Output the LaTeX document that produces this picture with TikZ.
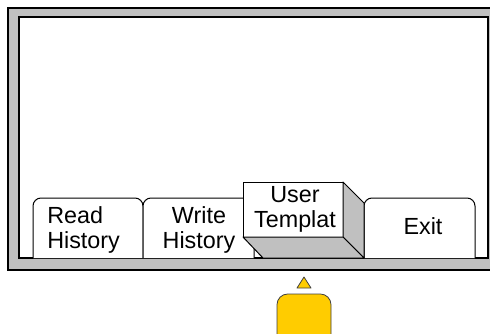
\documentclass[tikz,border=0pt]{standalone}
\usepackage{fontspec}
\usepackage{xcolor}
\newfontfamily\panelfont{Liberation Sans}
\definecolor{bezel}{HTML}{C0C0C0}
\definecolor{knob}{HTML}{FFCC00}

\begin{document}
\begin{tikzpicture}[x=0.75pt, y=-0.75pt, font=\panelfont\fontsize{17.5}{18.75}\selectfont,
  tabshape/.style={draw=black, fill=white, line width=0.75pt, rounded corners=6pt},
  tablabel/.style={align=center, inner sep=0pt},
  bevel/.style={draw=black, fill=bezel, line width=0.75pt, line join=round},
  knobshape/.style={draw=black!75, fill=knob, line width=0.6pt, line join=round}]
  \useasboundingbox (0,0) rectangle (490,333);
  \clip (0,0) rectangle (490,333);
  % Screen frame
  \draw[fill=bezel, line width=1.6pt] (8,8) rectangle (500,270);
  \draw[fill=white, line width=1pt] (19,17) rectangle (488,258);
  % Tabs
  \draw[tabshape] (33,258) -- (33,198) -- (143,198) -- (143,258);
  \draw[tabshape] (143,258) -- (143,198) -- (254,198) -- (254,258);
  \draw[tabshape] (364,258) -- (364,198) -- (475,198) -- (475,258);
  % Pressed button
  \draw[fill=white, line width=0.75pt] (243,182) rectangle (343,237);
  \draw[bevel] (343,182) -- (364,203) -- (364,258) -- (343,237) -- cycle;
  \draw[bevel] (243,237) -- (343,237) -- (364,258) -- (263,258) -- cycle;
  % Labels
  \node[tablabel, align=left, anchor=west] (readlbl) at (47,229.5) {Read\\History};
  \node[tablabel] (writelbl) at (199,229.5) {Write\\History};
  \node[tablabel] (userlbl) at (295,209) {User\\Templat};
  \node[tablabel] (exitlbl) at (423,226.5) {Exit};
  % Selector knob
  \draw[knobshape] (304,277) -- (311,288) -- (297,288) -- cycle;
  \draw[knobshape, rounded corners=8pt] (277,294) rectangle (331,348);
\end{tikzpicture}
\end{document}
